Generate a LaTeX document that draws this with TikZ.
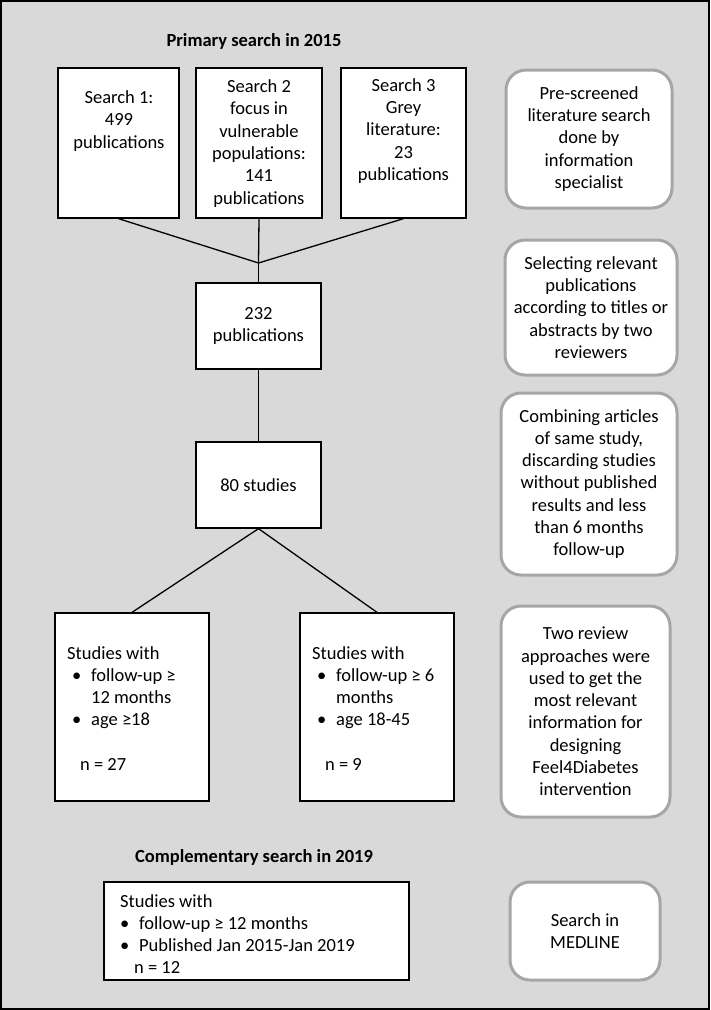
\documentclass[tikz,border=0pt]{standalone}
\usepackage{fontspec}
\setmainfont{Carlito}
\definecolor{bggray}{HTML}{D9D9D9}
\definecolor{rgray}{HTML}{A6A6A6}
\begin{document}
\begin{tikzpicture}[x=1pt,y=-1pt,
  every node/.style={font=\fontsize{18.5}{22.3}\selectfont},
  sqbox/.style={draw=black, line width=1.3pt, fill=white, inner sep=0pt, align=center},
  rbox/.style={draw=rgray, line width=3pt, fill=white, rounded corners=20pt, inner sep=0pt, align=center},
  txt/.style={align=center, inner sep=0pt},
  lft/.style={align=left, inner sep=0pt, anchor=north west},
  ttl/.style={inner sep=0pt, font=\fontsize{18.5}{22.3}\selectfont\bfseries},
  conn/.style={draw=black, line width=1.3pt}]
\useasboundingbox (0,0) rectangle (710,1010);
\fill[bggray] (0,0) rectangle (710,1010);
\draw[line width=2pt] (1,1) rectangle (709,1009);

\node[ttl] (title1) at (254,41) {Primary search in 2015};

\node[sqbox, minimum width=121, minimum height=150] (s1) at (118.5,143) {};
\node[sqbox, minimum width=126, minimum height=150] (s2) at (259,143) {};
\node[sqbox, minimum width=125, minimum height=150] (s3) at (403.5,143) {};
\node[txt] (t1) at (119,121) {Search 1:\\499\\publications};
\node[txt] (t2) at (259,143.5) {Search 2\\focus in\\vulnerable\\populations:\\141\\publications};
\node[txt] (t3) at (403.5,131) {Search 3\\Grey\\literature:\\23\\publications};

\coordinate (j) at (258.5,263);
\node[sqbox, minimum width=125, minimum height=86] (b232) at (258.5,326) {232\\publications};
\node[sqbox, minimum width=125, minimum height=86] (b80) at (258.5,485) {80 studies};

\node[sqbox, minimum width=154, minimum height=188] (L) at (132,707) {};
\node[sqbox, minimum width=154, minimum height=188] (M) at (377,707) {};
\node[lft] (tL) at (67,646) {Studies with\\
\hspace*{5pt}\makebox[19pt][l]{•}follow-up ≥\\
\hspace*{24pt}12 months\\
\hspace*{5pt}\makebox[19pt][l]{•}age ≥18\\[22.3pt]
\hspace*{13pt}n = 27};
\node[lft] (tM) at (312,646) {Studies with\\
\hspace*{5pt}\makebox[19pt][l]{•}follow-up ≥ 6\\
\hspace*{24pt}months\\
\hspace*{5pt}\makebox[19pt][l]{•}age 18-45\\[22.3pt]
\hspace*{13pt}n = 9};

\node[ttl] (title2) at (254,857) {Complementary search in 2019};
\node[sqbox, minimum width=305, minimum height=98] (B) at (256.5,931) {};
\node[lft] (tB) at (120,894) {Studies with\\
\makebox[19pt][l]{•}follow-up ≥ 12 months\\
\makebox[19pt][l]{•}Published Jan 2015-Jan 2019\\
\hspace*{14pt}n = 12};

\node[rbox, minimum width=166, minimum height=138] (r1) at (589,139) {Pre-screened\\literature search\\done by\\information\\specialist};
\node[rbox, minimum width=172, minimum height=135] (r2) at (591,307.5) {Selecting relevant\\publications\\according to titles or\\abstracts by two\\reviewers};
\node[rbox, minimum width=176, minimum height=182] (r3) at (589,484) {Combining articles\\of same study,\\discarding studies\\without published\\results and less\\than 6 months\\follow-up};
\node[rbox, minimum width=169, minimum height=211] (r4) at (585.5,711.5) {Two review\\approaches were\\used to get the\\most relevant\\information for\\designing\\Feel4Diabetes\\intervention};
\node[rbox, minimum width=150, minimum height=98] (r5) at (585,931) {Search in\\MEDLINE};

\draw[conn] (s1.south) -- (j);
\draw[conn] (s2.south) -- (j);
\draw[conn] (s3.south) -- (j);
\draw[conn] (j) -- (b232.north);
\draw[conn] (b232.south) -- (b80.north);
\draw[conn] (b80.south) -- (L.north);
\draw[conn] (b80.south) -- (M.north);
\end{tikzpicture}
\end{document}
